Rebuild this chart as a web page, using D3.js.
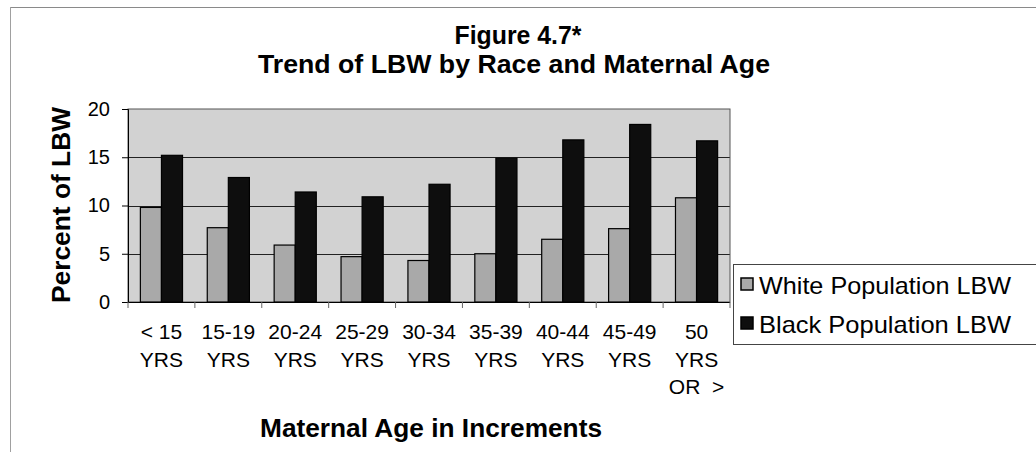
<!DOCTYPE html>
<html>
<head>
<meta charset="utf-8">
<script src="https://cdn.jsdelivr.net/npm/d3@7"></script>
<style>
  body { margin: 0; background: #fff; }
  text { font-family: "Liberation Sans", Arial, sans-serif; fill: #000; }
</style>
</head>
<body>
<div id="chart-area"></div>
<script>
// Data
var ageGroups = ["< 15", "15-19", "20-24", "25-29", "30-34", "35-39", "40-44", "45-49", "50+"];
var ageLabels = [["< 15", "YRS"], ["15-19", "YRS"], ["20-24", "YRS"], ["25-29", "YRS"], ["30-34", "YRS"],
                 ["35-39", "YRS"], ["40-44", "YRS"], ["45-49", "YRS"], ["50", "YRS", "OR  >"]];
var seriesNames = ["White Population LBW", "Black Population LBW"];
var whiteLBW = [9.8, 7.7, 5.9, 4.7, 4.3, 5.0, 6.5, 7.6, 10.8];
var blackLBW = [15.2, 12.9, 11.4, 10.9, 12.2, 14.9, 16.8, 18.4, 16.7];
var yTicks = [0, 5, 10, 15, 20];

LbwChart = function(_parentElement) {
  this.parentElement = _parentElement;
  this.margin = {top: 109, right: 306, bottom: 150, left: 128};
  this.width = 1036 - this.margin.left - this.margin.right;
  this.height = 452 - this.margin.top - this.margin.bottom;

  this.initVis();
}

LbwChart.prototype.initVis = function() {
  var vis = this;

  vis.root = d3.select("#" + vis.parentElement)
    .append("svg")
    .attr("width", 1036)
    .attr("height", 452);

  // outer frame of the scanned figure
  vis.root.append("line")
    .attr("x1", 10).attr("x2", 1036).attr("y1", 7.5).attr("y2", 7.5)
    .attr("stroke", "#8a8a8a");
  vis.root.append("line")
    .attr("x1", 10.5).attr("x2", 10.5).attr("y1", 7).attr("y2", 452)
    .attr("stroke", "#a0a0a0");

  vis.svg = vis.root.append("g")
    .attr("transform", "translate(" + vis.margin.left + "," + vis.margin.top + ")");

  vis.x = d3.scaleBand()
    .domain(ageGroups)
    .range([0, vis.width])
    .padding(0);

  var slot = vis.x.bandwidth();
  vis.xSeries = d3.scaleBand()
    .domain(seriesNames)
    .range([slot * 0.185, slot * 0.815]);

  vis.y = d3.scaleLinear()
    .domain([0, 20])
    .range([vis.height, 0]);

  vis.colors = d3.scaleOrdinal()
    .domain(seriesNames)
    .range(["#a9a9a9", "#0e0e0e"]);

  vis.updateVis();
}

LbwChart.prototype.updateVis = function() {
  var vis = this;

  // plot background
  vis.svg.append("rect")
    .attr("width", vis.width)
    .attr("height", vis.height)
    .attr("fill", "#d2d2d2");

  // gridlines
  vis.svg.selectAll(".grid")
    .data(yTicks.slice(1, 4))
    .enter().append("line")
    .attr("class", "grid")
    .attr("x1", 0).attr("x2", vis.width)
    .attr("y1", function(d) { return Math.round(vis.y(d)) + 0.5; })
    .attr("y2", function(d) { return Math.round(vis.y(d)) + 0.5; })
    .attr("stroke", "#222");

  vis.svg.append("rect")
    .attr("width", vis.width)
    .attr("height", vis.height)
    .attr("fill", "none")
    .attr("stroke", "#555");

  // bars
  var rows = ageGroups.map(function(g, i) {
    return [
      {group: g, series: seriesNames[0], value: whiteLBW[i]},
      {group: g, series: seriesNames[1], value: blackLBW[i]}
    ];
  });

  var groups = vis.svg.selectAll(".age")
    .data(rows)
    .enter().append("g")
    .attr("class", "age")
    .attr("transform", function(d) { return "translate(" + vis.x(d[0].group) + ",0)"; });

  groups.selectAll("rect")
    .data(function(d) { return d; })
    .enter().append("rect")
    .attr("x", function(d) { return vis.xSeries(d.series); })
    .attr("width", vis.xSeries.bandwidth())
    .attr("y", function(d) { return vis.y(d.value); })
    .attr("height", function(d) { return vis.height - vis.y(d.value); })
    .attr("fill", function(d) { return vis.colors(d.series); })
    .attr("stroke", "#000")
    .attr("stroke-width", 1.2);

  // y axis
  var yAxis = d3.axisLeft(vis.y)
    .tickValues(yTicks)
    .tickSize(6)
    .tickPadding(12);
  var yg = vis.svg.append("g").call(yAxis);
  yg.select(".domain").attr("stroke", "#000");
  yg.selectAll("line").attr("stroke", "#000");
  yg.selectAll("text")
    .style("font-size", "20px")
    .style("font-family", "'Liberation Sans', Arial, sans-serif");

  // x axis: ticks at category boundaries
  vis.svg.append("line")
    .attr("x1", 0).attr("x2", vis.width)
    .attr("y1", vis.height + 0.5).attr("y2", vis.height + 0.5)
    .attr("stroke", "#000");
  var bounds = ageGroups.map(function(g) { return vis.x(g); }).concat([vis.width]);
  vis.svg.selectAll(".xtick")
    .data(bounds)
    .enter().append("line")
    .attr("class", "xtick")
    .attr("x1", function(d) { return d; })
    .attr("x2", function(d) { return d; })
    .attr("y1", vis.height)
    .attr("y2", vis.height + 6)
    .attr("stroke", "#666");

  var labels = vis.svg.selectAll(".xlabel")
    .data(ageLabels)
    .enter().append("text")
    .attr("class", "xlabel")
    .attr("text-anchor", "middle")
    .style("font-size", "21px")
    .attr("transform", function(d, i) {
      return "translate(" + (vis.x(ageGroups[i]) + vis.x.bandwidth() / 2) + "," + (vis.height + 37) + ")";
    });
  labels.selectAll("tspan")
    .data(function(d) { return d; })
    .enter().append("tspan")
    .attr("x", 0)
    .attr("y", function(d, i) { return i * 27.5; })
    .attr("xml:space", "preserve")
    .style("white-space", "pre")
    .text(function(d) { return d; });

  // titles
  vis.root.append("text")
    .attr("x", 518).attr("y", 44)
    .attr("text-anchor", "middle")
    .attr("textLength", 127).attr("lengthAdjust", "spacingAndGlyphs")
    .style("font-size", "25px").style("font-weight", "bold")
    .text("Figure 4.7*");
  vis.root.append("text")
    .attr("x", 514).attr("y", 73)
    .attr("text-anchor", "middle")
    .attr("textLength", 512).attr("lengthAdjust", "spacingAndGlyphs")
    .style("font-size", "26px").style("font-weight", "bold")
    .text("Trend of LBW by Race and Maternal Age");
  vis.root.append("text")
    .attr("x", 431).attr("y", 437)
    .attr("text-anchor", "middle")
    .attr("textLength", 342).attr("lengthAdjust", "spacingAndGlyphs")
    .style("font-size", "26px").style("font-weight", "bold")
    .text("Maternal Age in Increments");
  vis.root.append("text")
    .attr("transform", "translate(70,205) rotate(-90)")
    .attr("text-anchor", "middle")
    .attr("textLength", 196).attr("lengthAdjust", "spacingAndGlyphs")
    .style("font-size", "26px").style("font-weight", "bold")
    .text("Percent of LBW");

  // legend
  var legend = vis.root.append("g")
    .attr("transform", "translate(733,264)");
  legend.append("rect")
    .attr("x", 0.5).attr("y", 0.5)
    .attr("width", 320).attr("height", 80)
    .attr("fill", "#fff")
    .attr("stroke", "#444");
  var items = legend.selectAll(".item")
    .data(seriesNames)
    .enter().append("g")
    .attr("class", "item")
    .attr("transform", function(d, i) { return "translate(8," + (14 + i * 39) + ")"; });
  items.append("rect")
    .attr("width", 12).attr("height", 12)
    .attr("fill", function(d) { return vis.colors(d); })
    .attr("stroke", "#000")
    .attr("stroke-width", 1.5);
  items.append("text")
    .attr("x", 18).attr("y", 16)
    .attr("textLength", 252).attr("lengthAdjust", "spacingAndGlyphs")
    .style("font-size", "24px")
    .text(function(d) { return d; });
}

var chart = new LbwChart("chart-area");
</script>
</body>
</html>
